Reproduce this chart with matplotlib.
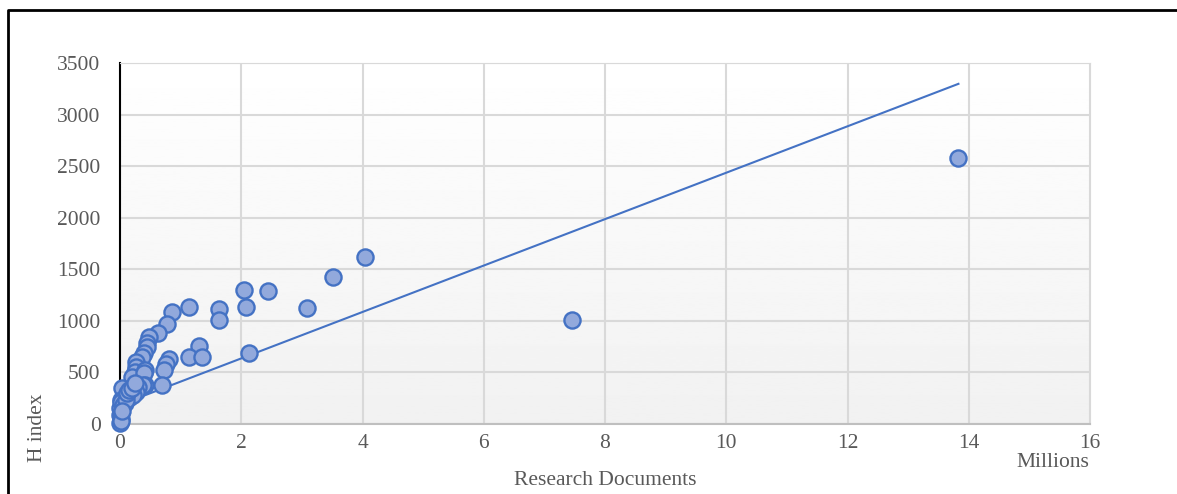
import matplotlib
matplotlib.use("Agg")
import numpy as np
import matplotlib.pyplot as plt
from matplotlib.lines import Line2D

# Research documents (millions) vs H index
docs = [13.83, 7.46, 4.04, 3.51, 3.09, 2.44, 2.05, 2.08, 2.13, 1.63,
        1.63, 1.14, 1.30, 1.14, 1.35, 0.86, 0.78, 0.63, 0.48, 0.45,
        0.44, 0.40, 0.37, 0.27, 0.26, 0.24, 0.19, 0.41, 0.40, 0.41,
        0.80, 0.76, 0.73, 0.69, 0.38, 0.30, 0.27, 0.03, 0.02, 0.00,
        0.00, 0.00, 0.08, 0.16, 0.21, 0.01, 0.01, 0.02, 0.05, 0.10,
        0.12, 0.15, 0.20, 0.25, 0.01, 0.03]
h_index = [2578, 1008, 1618, 1424, 1124, 1289, 1298, 1134, 688, 1114,
           1008, 1134, 756, 649, 649, 1085, 969, 882, 846, 788,
           743, 691, 652, 604, 556, 507, 452, 523, 491, 378,
           627, 581, 523, 378, 378, 361, 313, 345, 233, 155,
           87, 10, 203, 262, 281, 216, 107, 50, 180, 230,
           300, 330, 350, 400, 30, 130]

# linear trend line end points as drawn in the reference (Excel fit on full data)
trend_x = [0.0, 13.83]
trend_y = [186, 3298]

x_ticks = [0, 2, 4, 6, 8, 10, 12, 14, 16]
y_ticks = [0, 500, 1000, 1500, 2000, 2500, 3000, 3500]

FONT = "Liberation Serif"
GREY = "#595959"
FS = 15.5

W, H = 1177, 494
fig = plt.figure(figsize=(W / 100, H / 100), dpi=100)
ax = fig.add_axes([120 / W, 1 - 424 / H, (1090 - 120) / W, (424 - 63) / H])

# soft vertical gradient in the plot area
grad = np.linspace(1.0, 0.945, 256).reshape(-1, 1)
ax.imshow(grad, cmap="gray", vmin=0, vmax=1, aspect="auto",
          extent=[0, 1, 0, 1], transform=ax.transAxes, zorder=0)

ax.set_xlim(0, 16)
ax.set_ylim(0, 3500)
ax.set_xticks(x_ticks)
ax.set_yticks(y_ticks)
ax.grid(True, color="#d9d9d9", lw=1.5, zorder=1)
ax.set_axisbelow(True)

ax.plot(trend_x, trend_y, color="#4472c4", lw=1.5, zorder=3)

ax.scatter(docs, h_index, s=135, facecolor="#92a9dc", edgecolor="#4472c4",
           linewidth=1.7, zorder=4, clip_on=False)

for side in ["top", "right"]:
    ax.spines[side].set_color("#d9d9d9")
ax.spines["bottom"].set_color("#bfbfbf")
ax.spines["bottom"].set_linewidth(1.5)
ax.spines["left"].set_color("black")
ax.spines["left"].set_linewidth(1.5)

ax.tick_params(length=0, labelsize=FS, labelcolor=GREY)
ax.tick_params(axis="y", pad=14)
ax.tick_params(axis="x", pad=7)
for lab in ax.get_xticklabels() + ax.get_yticklabels():
    lab.set_family(FONT)

fig.text(605 / W, 1 - 480 / H, "Research Documents", ha="center", va="center",
         fontsize=FS, color=GREY, family=FONT)
fig.text(38 / W, 1 - 428 / H, "H index", ha="center", va="center", rotation=90,
         fontsize=FS, color=GREY, family=FONT)
fig.text(1053 / W, 1 - 462 / H, "Millions", ha="center", va="center",
         fontsize=FS, color=GREY, family=FONT)

# chart border (top and left edges visible)
fig.add_artist(Line2D([8 / W, 8 / W, 1], [0, 1 - 10 / H, 1 - 10 / H],
                      transform=fig.transFigure, color="black", lw=2))

fig.savefig("out.png", dpi=100)
